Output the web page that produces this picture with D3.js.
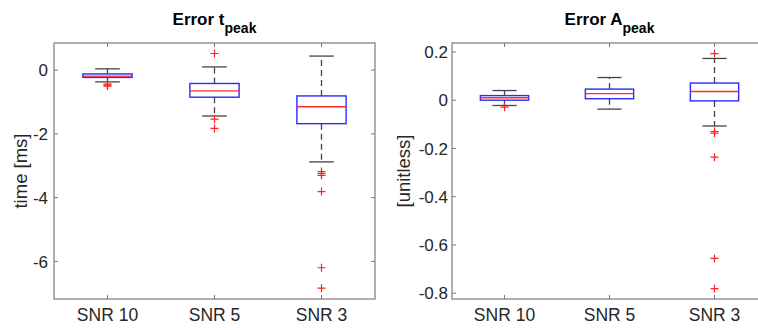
<!DOCTYPE html>
<html>
<head>
<meta charset="utf-8">
<script src="https://cdn.jsdelivr.net/npm/d3@7"></script>
<style>
  body { margin: 0; background: #fff; }
  svg { display: block; font-family: "Liberation Sans", Arial, sans-serif; }
</style>
</head>
<body>
<svg id="chart" width="758" height="330"></svg>
<script>
// categories shared by both panels
const categories = ["SNR 10", "SNR 5", "SNR 3"];

// left panel: Error t_peak, time [ms]
const tWhiskerHi = [0.04, 0.10, 0.44];
const tQ3        = [-0.12, -0.42, -0.81];
const tMedian    = [-0.19, -0.65, -1.15];
const tQ1        = [-0.23, -0.85, -1.68];
const tWhiskerLo = [-0.37, -1.44, -2.88];
const tOutliers  = [[-0.44, -0.47, -0.50], [0.52, -1.54, -1.83], [-3.18, -3.24, -3.30, -3.81, -6.20, -6.84]];
const tTicks     = [0, -2, -4, -6];

// right panel: Error A_peak, [unitless]
const aWhiskerHi = [0.040, 0.094, 0.173];
const aQ3        = [0.019, 0.046, 0.071];
const aMedian    = [0.010, 0.027, 0.036];
const aQ1        = [0.000, 0.006, -0.003];
const aWhiskerLo = [-0.022, -0.037, -0.107];
const aOutliers  = [[-0.029], [], [0.193, -0.130, -0.137, -0.236, -0.656, -0.781]];
const aTicks     = [0.2, 0, -0.2, -0.4, -0.6, -0.8];

const svg = d3.select("#chart");
svg.append("rect").attr("width", 758).attr("height", 330).attr("fill", "#fff");

function drawPanel(opt) {
    const g = svg.append("g");
    const x = d3.scaleLinear().domain([0.5, 3.5]).range([opt.left, opt.right]);
    const y = d3.scaleLinear().domain(opt.domain).range([299, 43]);
    const step = x(2) - x(1);
    const boxW = step * 0.46;
    const capW = boxW / 2;

    // boxes
    categories.forEach((c, i) => {
        const cx = x(i + 1);
        // whiskers (dashed)
        g.append("line").attr("x1", cx).attr("x2", cx)
            .attr("y1", y(opt.q3[i])).attr("y2", y(opt.hi[i]))
            .attr("stroke", "#444").attr("stroke-width", 1.3).attr("stroke-dasharray", "6,4");
        g.append("line").attr("x1", cx).attr("x2", cx)
            .attr("y1", y(opt.q1[i])).attr("y2", y(opt.lo[i]))
            .attr("stroke", "#444").attr("stroke-width", 1.3).attr("stroke-dasharray", "6,4");
        // caps
        [opt.hi[i], opt.lo[i]].forEach(v => {
            g.append("line").attr("x1", cx - capW / 2).attr("x2", cx + capW / 2)
                .attr("y1", y(v)).attr("y2", y(v))
                .attr("stroke", "#444").attr("stroke-width", 1.3);
        });
        // box
        g.append("rect").attr("x", cx - boxW / 2).attr("width", boxW)
            .attr("y", y(opt.q3[i])).attr("height", y(opt.q1[i]) - y(opt.q3[i]))
            .attr("fill", "none").attr("stroke", "#2b2bff").attr("stroke-width", 1.4);
        // median
        g.append("line").attr("x1", cx - boxW / 2).attr("x2", cx + boxW / 2)
            .attr("y1", y(opt.med[i])).attr("y2", y(opt.med[i]))
            .attr("stroke", "#ff2a2a").attr("stroke-width", 1.3);
        // outliers
        opt.out[i].forEach(v => {
            g.append("path")
                .attr("d", `M${cx - 4},${y(v)}H${cx + 4}M${cx},${y(v) - 4}V${y(v) + 4}`)
                .attr("stroke", "#ff2020").attr("stroke-width", 1.2).attr("fill", "none");
        });
    });

    // axes box
    g.append("rect").attr("x", opt.left).attr("y", 43)
        .attr("width", opt.right - opt.left).attr("height", 256)
        .attr("fill", "none").attr("stroke", "#7a7a7a").attr("stroke-width", 1.2);

    // y ticks (inside, both sides)
    opt.ticks.forEach(t => {
        g.append("path")
            .attr("d", `M${opt.left},${y(t)}h4M${opt.right},${y(t)}h-4`)
            .attr("stroke", "#7a7a7a").attr("stroke-width", 1);
        g.append("text").attr("x", opt.left - opt.labelGap).attr("y", y(t))
            .attr("dy", "0.36em").attr("text-anchor", "end")
            .attr("font-size", 17).attr("fill", "#262626")
            .text(t === 0 ? "0" : d3.format(opt.fmt)(t).replace("−", "-"));
    });

    // x ticks (inside, top and bottom) + labels
    categories.forEach((c, i) => {
        const cx = x(i + 1);
        g.append("path")
            .attr("d", `M${cx},299v-4M${cx},43v4`)
            .attr("stroke", "#7a7a7a").attr("stroke-width", 1);
        g.append("text").attr("x", cx).attr("y", 321)
            .attr("text-anchor", "middle").attr("font-size", 17.5).attr("fill", "#262626")
            .text(c);
    });

    // y label
    g.append("text")
        .attr("transform", `translate(${opt.ylabelX},171) rotate(-90)`)
        .attr("text-anchor", "middle").attr("font-size", 18.5).attr("fill", "#262626")
        .text(opt.ylabel);

    // title with subscript
    const title = g.append("text").attr("x", (opt.left + opt.right) / 2).attr("y", 25)
        .attr("text-anchor", "middle").attr("font-weight", "bold").attr("font-size", 17)
        .attr("fill", "#000");
    title.append("tspan").text(opt.title);
    title.append("tspan").attr("font-size", 14).attr("dy", 8).text("peak");
}

drawPanel({
    left: 54, right: 375, domain: [-7.18, 0.85],
    hi: tWhiskerHi, q3: tQ3, med: tMedian, q1: tQ1, lo: tWhiskerLo, out: tOutliers,
    ticks: tTicks, fmt: "d", labelGap: 6,
    ylabel: "time [ms]", ylabelX: 27, title: "Error t"
});

drawPanel({
    left: 452, right: 767, domain: [-0.824, 0.237],
    hi: aWhiskerHi, q3: aQ3, med: aMedian, q1: aQ1, lo: aWhiskerLo, out: aOutliers,
    ticks: aTicks, fmt: ".1f", labelGap: 4,
    ylabel: "[unitless]", ylabelX: 410, title: "Error A"
});
</script>
</body>
</html>
